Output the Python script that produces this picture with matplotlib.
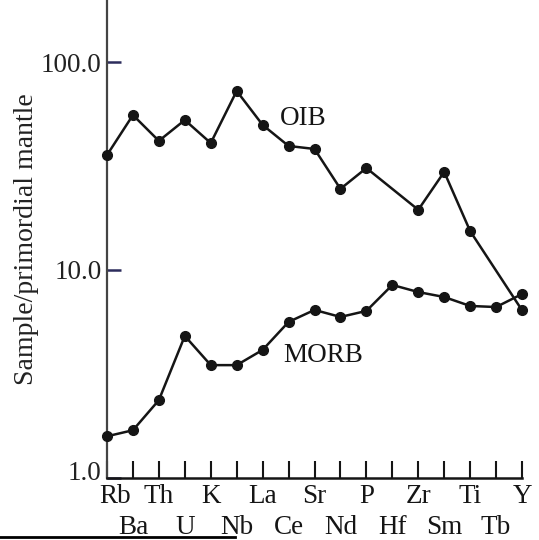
import numpy as np
import matplotlib
matplotlib.use("Agg")
import matplotlib.pyplot as plt
from matplotlib.lines import Line2D
from matplotlib.transforms import ScaledTranslation

# Elements in spider-diagram order
elements = ["Rb", "Ba", "Th", "U", "K", "Nb", "La", "Ce", "Sr", "Nd",
            "P", "Hf", "Zr", "Sm", "Ti", "Tb", "Y"]

# Primordial-mantle-normalised abundances (None = not plotted)
oib = [35.8, 55.8, 41.9, 52.8, 40.9, 72.9, 50.0, 39.6, 38.3, 24.6,
       31.0, None, 19.5, 29.7, 15.4, None, 6.4]
morb = [1.58, 1.69, 2.36, 4.81, 3.48, 3.48, 4.12, 5.62, 6.42, 5.94,
        6.35, 8.47, 7.83, 7.41, 6.71, 6.63, 7.66]

ytick_vals = [1.0, 10.0, 100.0]
ytick_labels = ["1.0", "10.0", "100.0"]

plt.rcParams["font.family"] = ["Liberation Serif", "DejaVu Serif"]
ink = "#151515"

fig = plt.figure(figsize=(5.39, 5.40), dpi=100)
ax = fig.add_axes([0.1985, 0.1157, 0.77, 0.8843])
ax.set_yscale("log")
ax.set_xlim(0, len(elements) - 1)
ax.set_ylim(1.0, 200)

x = np.arange(len(elements))
oib_x = [i for i, v in enumerate(oib) if v is not None]
oib_y = [v for v in oib if v is not None]

ax.plot(oib_x, oib_y, color=ink, lw=1.8, marker="o", ms=7, clip_on=False, zorder=3)
ax.plot(x, morb, color=ink, lw=1.8, marker="o", ms=7, clip_on=False, zorder=3)

ax.text(7.56, 54, "OIB", fontsize=19.5, color=ink, ha="center", va="center")
ax.text(8.33, 3.89, "MORB", fontsize=19.5, color=ink, ha="center", va="center")

# axes frame
for s in ("top", "right"):
    ax.spines[s].set_visible(False)
ax.spines["left"].set_color("#444444")
ax.spines["left"].set_linewidth(1.6)
ax.spines["bottom"].set_color(ink)
ax.spines["bottom"].set_linewidth(1.8)

ax.set_yticks(ytick_vals)
ax.set_yticklabels(ytick_labels, fontsize=19.5, color="#222222")
ax.yaxis.set_minor_locator(matplotlib.ticker.NullLocator())
ax.tick_params(axis="y", direction="in", length=10, width=1.8, color="#2c2c5c", pad=4)
# nudge the bottom label up a little off the baseline
lbl0 = ax.get_yticklabels()[0]
lbl0.set_transform(lbl0.get_transform() + ScaledTranslation(0, 7 / 100, fig.dpi_scale_trans))

ax.set_xticks(x)
ax.set_xticklabels([])
ax.tick_params(axis="x", direction="in", length=12, width=1.5, color=ink)

# element labels in two staggered rows
for i, el in enumerate(elements):
    row_y = -0.053 if i % 2 == 0 else -0.119
    ax.text(i + 0.3 if i == 0 else i, row_y, el, transform=ax.get_xaxis_transform(),
            fontsize=19.5, color=ink, ha="center", va="baseline")

ax.set_ylabel("Sample/primordial mantle", fontsize=20, color="#222222")
ax.yaxis.set_label_coords(-0.163, 0.50)

# page edge rule along the bottom
fig.add_artist(Line2D([0.0, 0.436], [0.006, 0.006], color="black", lw=2.0,
                      transform=fig.transFigure))

fig.savefig("out.png", dpi=100)
